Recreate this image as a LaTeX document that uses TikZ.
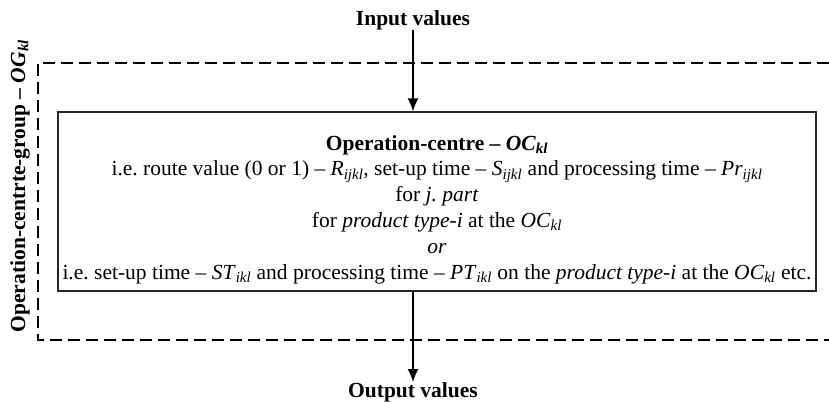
\documentclass[tikz,border=0pt]{standalone}
\usepackage{amsmath}
\usepackage{fontspec}
\setmainfont{Liberation Serif}
\usetikzlibrary{positioning}
\usetikzlibrary{arrows.meta}
\frenchspacing
\newcommand{\ocsym}[2]{\textit{#1}\ensuremath{_{\text{\itshape #2}}}}

\begin{document}
\begin{tikzpicture}[x=1pt, y=-1pt, font=\fontsize{21.5}{25.8}\selectfont,
	every node/.style={inner sep=0pt},
	flow/.style={-{Latex[length=13pt, width=11pt]}, line width=1.4pt},
	groupline/.style={line width=1.6pt, dash pattern=on 12pt off 6pt},
	ocbox/.style={draw=black!85, line width=1.3pt, minimum width=758pt, minimum height=179pt}]
	\useasboundingbox (0,0) rectangle (829,402);
	\node[ocbox](ocbox) at (437,201.5) {};
	\node[align=center](octext) at (437,209.5) {\textbf{Operation-centre – \ocsym{OC}{kl}}\\
		i.e. route value (0 or 1) – \ocsym{R}{ijkl}, set-up time – \ocsym{S}{ijkl} and processing time – \ocsym{Pr}{ijkl}\\
		for \textit{j. part}\\
		for \textit{product type-i} at the \ocsym{OC}{kl}\\
		\textit{or}\\
		i.e. set-up time – \ocsym{ST}{ikl} and processing time – \ocsym{PT}{ikl} on the \textit{product type-i} at the \ocsym{OC}{kl} etc.};
	\node[font=\fontsize{21.5}{25.8}\selectfont\bfseries](input) at (413,20) {Input values};
	\node[font=\fontsize{21.5}{25.8}\selectfont\bfseries](output) at (413,392) {Output values};
	\node[rotate=90, font=\fontsize{21.5}{25.8}\selectfont\bfseries](ogroup) at (20,186) {Operation-centrte-group – \ocsym{OG}{kl}};
	% flows in and out
	\draw[flow] (input.south) -- (input.south |- ocbox.north);
	\draw[flow] (output.north |- ocbox.south) -- (output.north);
	% group border, open on the right
	\draw[groupline] (829,63) -| (38,340) -- (829,340);
\end{tikzpicture}
\end{document}
